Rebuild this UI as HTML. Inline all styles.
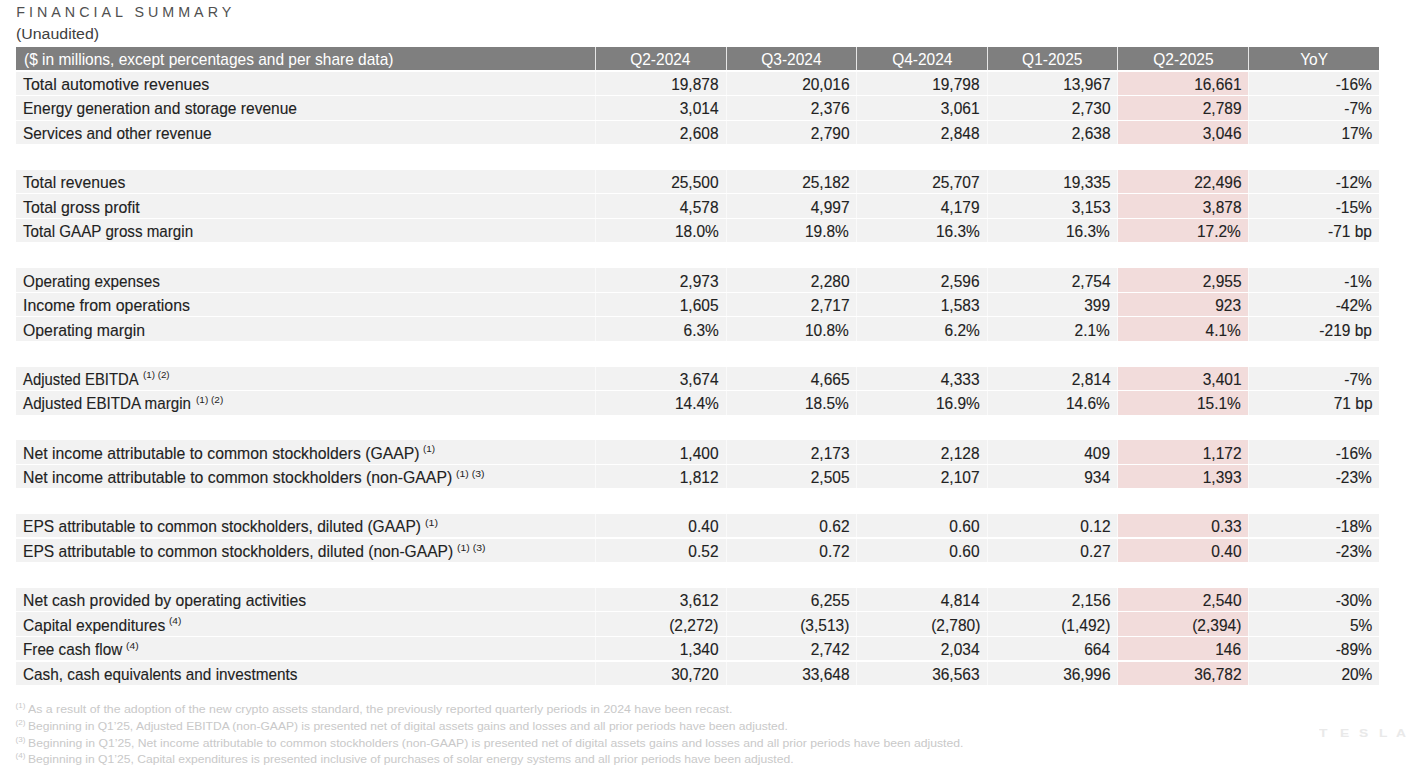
<!DOCTYPE html>
<html><head><meta charset="utf-8"><style>
html,body{margin:0;padding:0;background:#fff;}
body{width:1408px;height:776px;position:relative;overflow:hidden;font-family:"Liberation Sans",sans-serif;}
.t{position:absolute;white-space:pre;line-height:1;}
.bg{position:absolute;background:#f2f2f2;}
.pk{position:absolute;background:#f2dcdb;}
.hd{position:absolute;background:#7f7f7f;}
.sep{position:absolute;background:#fafafa;width:1px;}
.hsep{position:absolute;background:#e6e6e6;width:1px;}
.txt{color:#222;font-size:16.2px;-webkit-text-stroke:0.12px #222;}
.htx{color:#fff;font-size:16.2px;}
.sup{color:#1e1e1e;font-size:9.6px;transform-origin:0 0;}
.fn{color:#c9c9c9;font-size:11.6px;transform-origin:0 0;}
.fs{color:#c9c9c9;font-size:8.1px;transform-origin:0 0;}
</style></head><body>

<div class="t" style="left:16.3px;top:5.0px;font-size:14.3px;letter-spacing:4.0px;color:#505050;">FINANCIAL SUMMARY</div>
<div class="t" style="left:16px;top:26px;font-size:15.3px;color:#404040;transform-origin:0 0;transform:scaleX(1.039240506329114)">(Unaudited)</div>
<div class="hd" style="left:16.00px;top:47.00px;width:1363.00px;height:23.43px"></div>
<div class="t htx" style="left:23.90px;top:50.70px;transform-origin:0 0;transform:scaleX(0.957)">($ in millions, except percentages and per share data)</div>
<div class="t htx" style="left:595.30px;width:130.70px;text-align:center;top:50.70px;transform-origin:50% 0;transform:scaleX(0.957)">Q2-2024</div>
<div class="t htx" style="left:726.00px;width:130.75px;text-align:center;top:50.70px;transform-origin:50% 0;transform:scaleX(0.957)">Q3-2024</div>
<div class="t htx" style="left:856.75px;width:130.65px;text-align:center;top:50.70px;transform-origin:50% 0;transform:scaleX(0.957)">Q4-2024</div>
<div class="t htx" style="left:987.40px;width:130.50px;text-align:center;top:50.70px;transform-origin:50% 0;transform:scaleX(0.957)">Q1-2025</div>
<div class="t htx" style="left:1117.90px;width:130.80px;text-align:center;top:50.70px;transform-origin:50% 0;transform:scaleX(0.957)">Q2-2025</div>
<div class="t htx" style="left:1248.70px;width:130.30px;text-align:center;top:50.70px;transform-origin:50% 0;transform:scaleX(0.957)">YoY</div>
<div class="hsep" style="left:594.80px;top:47.00px;height:23.43px"></div>
<div class="hsep" style="left:725.50px;top:47.00px;height:23.43px"></div>
<div class="hsep" style="left:856.25px;top:47.00px;height:23.43px"></div>
<div class="hsep" style="left:986.90px;top:47.00px;height:23.43px"></div>
<div class="hsep" style="left:1117.40px;top:47.00px;height:23.43px"></div>
<div class="hsep" style="left:1248.20px;top:47.00px;height:23.43px"></div>
<div class="bg" style="left:16.00px;top:71.58px;width:1363.00px;height:23.43px"></div>
<div class="pk" style="left:1117.90px;top:71.58px;width:130.80px;height:23.43px"></div>
<div class="sep" style="left:594.80px;top:71.58px;height:23.43px"></div>
<div class="sep" style="left:725.50px;top:71.58px;height:23.43px"></div>
<div class="sep" style="left:856.25px;top:71.58px;height:23.43px"></div>
<div class="sep" style="left:986.90px;top:71.58px;height:23.43px"></div>
<div class="sep" style="left:1117.40px;top:71.58px;height:23.43px"></div>
<div class="sep" style="left:1248.20px;top:71.58px;height:23.43px"></div>
<div class="t txt" style="left:23.00px;top:75.88px;transform-origin:0 0;transform:scaleX(0.9862)">Total automotive revenues</div>
<div class="t txt" style="right:689.60px;top:75.88px;transform-origin:100% 0;transform:scaleX(0.957)">19,878</div>
<div class="t txt" style="right:558.85px;top:75.88px;transform-origin:100% 0;transform:scaleX(0.957)">20,016</div>
<div class="t txt" style="right:428.20px;top:75.88px;transform-origin:100% 0;transform:scaleX(0.957)">19,798</div>
<div class="t txt" style="right:297.70px;top:75.88px;transform-origin:100% 0;transform:scaleX(0.957)">13,967</div>
<div class="t txt" style="right:166.90px;top:75.88px;transform-origin:100% 0;transform:scaleX(0.957)">16,661</div>
<div class="t txt" style="right:35.80px;top:75.88px;transform-origin:100% 0;transform:scaleX(0.957)">-16%</div>
<div class="bg" style="left:16.00px;top:96.16px;width:1363.00px;height:23.43px"></div>
<div class="pk" style="left:1117.90px;top:96.16px;width:130.80px;height:23.43px"></div>
<div class="sep" style="left:594.80px;top:96.16px;height:23.43px"></div>
<div class="sep" style="left:725.50px;top:96.16px;height:23.43px"></div>
<div class="sep" style="left:856.25px;top:96.16px;height:23.43px"></div>
<div class="sep" style="left:986.90px;top:96.16px;height:23.43px"></div>
<div class="sep" style="left:1117.40px;top:96.16px;height:23.43px"></div>
<div class="sep" style="left:1248.20px;top:96.16px;height:23.43px"></div>
<div class="t txt" style="left:23.00px;top:100.46px;transform-origin:0 0;transform:scaleX(0.9604)">Energy generation and storage revenue</div>
<div class="t txt" style="right:689.60px;top:100.46px;transform-origin:100% 0;transform:scaleX(0.957)">3,014</div>
<div class="t txt" style="right:558.85px;top:100.46px;transform-origin:100% 0;transform:scaleX(0.957)">2,376</div>
<div class="t txt" style="right:428.20px;top:100.46px;transform-origin:100% 0;transform:scaleX(0.957)">3,061</div>
<div class="t txt" style="right:297.70px;top:100.46px;transform-origin:100% 0;transform:scaleX(0.957)">2,730</div>
<div class="t txt" style="right:166.90px;top:100.46px;transform-origin:100% 0;transform:scaleX(0.957)">2,789</div>
<div class="t txt" style="right:35.80px;top:100.46px;transform-origin:100% 0;transform:scaleX(0.957)">-7%</div>
<div class="bg" style="left:16.00px;top:120.74px;width:1363.00px;height:23.43px"></div>
<div class="pk" style="left:1117.90px;top:120.74px;width:130.80px;height:23.43px"></div>
<div class="sep" style="left:594.80px;top:120.74px;height:23.43px"></div>
<div class="sep" style="left:725.50px;top:120.74px;height:23.43px"></div>
<div class="sep" style="left:856.25px;top:120.74px;height:23.43px"></div>
<div class="sep" style="left:986.90px;top:120.74px;height:23.43px"></div>
<div class="sep" style="left:1117.40px;top:120.74px;height:23.43px"></div>
<div class="sep" style="left:1248.20px;top:120.74px;height:23.43px"></div>
<div class="t txt" style="left:23.00px;top:125.04px;transform-origin:0 0;transform:scaleX(0.9525)">Services and other revenue</div>
<div class="t txt" style="right:689.60px;top:125.04px;transform-origin:100% 0;transform:scaleX(0.957)">2,608</div>
<div class="t txt" style="right:558.85px;top:125.04px;transform-origin:100% 0;transform:scaleX(0.957)">2,790</div>
<div class="t txt" style="right:428.20px;top:125.04px;transform-origin:100% 0;transform:scaleX(0.957)">2,848</div>
<div class="t txt" style="right:297.70px;top:125.04px;transform-origin:100% 0;transform:scaleX(0.957)">2,638</div>
<div class="t txt" style="right:166.90px;top:125.04px;transform-origin:100% 0;transform:scaleX(0.957)">3,046</div>
<div class="t txt" style="right:35.80px;top:125.04px;transform-origin:100% 0;transform:scaleX(0.957)">17%</div>
<div class="bg" style="left:16.00px;top:169.90px;width:1363.00px;height:23.43px"></div>
<div class="pk" style="left:1117.90px;top:169.90px;width:130.80px;height:23.43px"></div>
<div class="sep" style="left:594.80px;top:169.90px;height:23.43px"></div>
<div class="sep" style="left:725.50px;top:169.90px;height:23.43px"></div>
<div class="sep" style="left:856.25px;top:169.90px;height:23.43px"></div>
<div class="sep" style="left:986.90px;top:169.90px;height:23.43px"></div>
<div class="sep" style="left:1117.40px;top:169.90px;height:23.43px"></div>
<div class="sep" style="left:1248.20px;top:169.90px;height:23.43px"></div>
<div class="t txt" style="left:23.00px;top:174.20px;transform-origin:0 0;transform:scaleX(0.9714)">Total revenues</div>
<div class="t txt" style="right:689.60px;top:174.20px;transform-origin:100% 0;transform:scaleX(0.957)">25,500</div>
<div class="t txt" style="right:558.85px;top:174.20px;transform-origin:100% 0;transform:scaleX(0.957)">25,182</div>
<div class="t txt" style="right:428.20px;top:174.20px;transform-origin:100% 0;transform:scaleX(0.957)">25,707</div>
<div class="t txt" style="right:297.70px;top:174.20px;transform-origin:100% 0;transform:scaleX(0.957)">19,335</div>
<div class="t txt" style="right:166.90px;top:174.20px;transform-origin:100% 0;transform:scaleX(0.957)">22,496</div>
<div class="t txt" style="right:35.80px;top:174.20px;transform-origin:100% 0;transform:scaleX(0.957)">-12%</div>
<div class="bg" style="left:16.00px;top:194.48px;width:1363.00px;height:23.43px"></div>
<div class="pk" style="left:1117.90px;top:194.48px;width:130.80px;height:23.43px"></div>
<div class="sep" style="left:594.80px;top:194.48px;height:23.43px"></div>
<div class="sep" style="left:725.50px;top:194.48px;height:23.43px"></div>
<div class="sep" style="left:856.25px;top:194.48px;height:23.43px"></div>
<div class="sep" style="left:986.90px;top:194.48px;height:23.43px"></div>
<div class="sep" style="left:1117.40px;top:194.48px;height:23.43px"></div>
<div class="sep" style="left:1248.20px;top:194.48px;height:23.43px"></div>
<div class="t txt" style="left:23.00px;top:198.78px;transform-origin:0 0;transform:scaleX(0.9824)">Total gross profit</div>
<div class="t txt" style="right:689.60px;top:198.78px;transform-origin:100% 0;transform:scaleX(0.957)">4,578</div>
<div class="t txt" style="right:558.85px;top:198.78px;transform-origin:100% 0;transform:scaleX(0.957)">4,997</div>
<div class="t txt" style="right:428.20px;top:198.78px;transform-origin:100% 0;transform:scaleX(0.957)">4,179</div>
<div class="t txt" style="right:297.70px;top:198.78px;transform-origin:100% 0;transform:scaleX(0.957)">3,153</div>
<div class="t txt" style="right:166.90px;top:198.78px;transform-origin:100% 0;transform:scaleX(0.957)">3,878</div>
<div class="t txt" style="right:35.80px;top:198.78px;transform-origin:100% 0;transform:scaleX(0.957)">-15%</div>
<div class="bg" style="left:16.00px;top:219.06px;width:1363.00px;height:23.43px"></div>
<div class="pk" style="left:1117.90px;top:219.06px;width:130.80px;height:23.43px"></div>
<div class="sep" style="left:594.80px;top:219.06px;height:23.43px"></div>
<div class="sep" style="left:725.50px;top:219.06px;height:23.43px"></div>
<div class="sep" style="left:856.25px;top:219.06px;height:23.43px"></div>
<div class="sep" style="left:986.90px;top:219.06px;height:23.43px"></div>
<div class="sep" style="left:1117.40px;top:219.06px;height:23.43px"></div>
<div class="sep" style="left:1248.20px;top:219.06px;height:23.43px"></div>
<div class="t txt" style="left:23.00px;top:223.36px;transform-origin:0 0;transform:scaleX(0.9376)">Total GAAP gross margin</div>
<div class="t txt" style="right:689.60px;top:223.36px;transform-origin:100% 0;transform:scaleX(0.957)">18.0%</div>
<div class="t txt" style="right:558.85px;top:223.36px;transform-origin:100% 0;transform:scaleX(0.957)">19.8%</div>
<div class="t txt" style="right:428.20px;top:223.36px;transform-origin:100% 0;transform:scaleX(0.957)">16.3%</div>
<div class="t txt" style="right:297.70px;top:223.36px;transform-origin:100% 0;transform:scaleX(0.957)">16.3%</div>
<div class="t txt" style="right:166.90px;top:223.36px;transform-origin:100% 0;transform:scaleX(0.957)">17.2%</div>
<div class="t txt" style="right:35.80px;top:223.36px;transform-origin:100% 0;transform:scaleX(0.957)">-71 bp</div>
<div class="bg" style="left:16.00px;top:268.22px;width:1363.00px;height:23.43px"></div>
<div class="pk" style="left:1117.90px;top:268.22px;width:130.80px;height:23.43px"></div>
<div class="sep" style="left:594.80px;top:268.22px;height:23.43px"></div>
<div class="sep" style="left:725.50px;top:268.22px;height:23.43px"></div>
<div class="sep" style="left:856.25px;top:268.22px;height:23.43px"></div>
<div class="sep" style="left:986.90px;top:268.22px;height:23.43px"></div>
<div class="sep" style="left:1117.40px;top:268.22px;height:23.43px"></div>
<div class="sep" style="left:1248.20px;top:268.22px;height:23.43px"></div>
<div class="t txt" style="left:23.00px;top:272.52px;transform-origin:0 0;transform:scaleX(0.9448)">Operating expenses</div>
<div class="t txt" style="right:689.60px;top:272.52px;transform-origin:100% 0;transform:scaleX(0.957)">2,973</div>
<div class="t txt" style="right:558.85px;top:272.52px;transform-origin:100% 0;transform:scaleX(0.957)">2,280</div>
<div class="t txt" style="right:428.20px;top:272.52px;transform-origin:100% 0;transform:scaleX(0.957)">2,596</div>
<div class="t txt" style="right:297.70px;top:272.52px;transform-origin:100% 0;transform:scaleX(0.957)">2,754</div>
<div class="t txt" style="right:166.90px;top:272.52px;transform-origin:100% 0;transform:scaleX(0.957)">2,955</div>
<div class="t txt" style="right:35.80px;top:272.52px;transform-origin:100% 0;transform:scaleX(0.957)">-1%</div>
<div class="bg" style="left:16.00px;top:292.80px;width:1363.00px;height:23.43px"></div>
<div class="pk" style="left:1117.90px;top:292.80px;width:130.80px;height:23.43px"></div>
<div class="sep" style="left:594.80px;top:292.80px;height:23.43px"></div>
<div class="sep" style="left:725.50px;top:292.80px;height:23.43px"></div>
<div class="sep" style="left:856.25px;top:292.80px;height:23.43px"></div>
<div class="sep" style="left:986.90px;top:292.80px;height:23.43px"></div>
<div class="sep" style="left:1117.40px;top:292.80px;height:23.43px"></div>
<div class="sep" style="left:1248.20px;top:292.80px;height:23.43px"></div>
<div class="t txt" style="left:23.00px;top:297.10px;transform-origin:0 0;transform:scaleX(0.9818)">Income from operations</div>
<div class="t txt" style="right:689.60px;top:297.10px;transform-origin:100% 0;transform:scaleX(0.957)">1,605</div>
<div class="t txt" style="right:558.85px;top:297.10px;transform-origin:100% 0;transform:scaleX(0.957)">2,717</div>
<div class="t txt" style="right:428.20px;top:297.10px;transform-origin:100% 0;transform:scaleX(0.957)">1,583</div>
<div class="t txt" style="right:297.70px;top:297.10px;transform-origin:100% 0;transform:scaleX(0.957)">399</div>
<div class="t txt" style="right:166.90px;top:297.10px;transform-origin:100% 0;transform:scaleX(0.957)">923</div>
<div class="t txt" style="right:35.80px;top:297.10px;transform-origin:100% 0;transform:scaleX(0.957)">-42%</div>
<div class="bg" style="left:16.00px;top:317.38px;width:1363.00px;height:23.43px"></div>
<div class="pk" style="left:1117.90px;top:317.38px;width:130.80px;height:23.43px"></div>
<div class="sep" style="left:594.80px;top:317.38px;height:23.43px"></div>
<div class="sep" style="left:725.50px;top:317.38px;height:23.43px"></div>
<div class="sep" style="left:856.25px;top:317.38px;height:23.43px"></div>
<div class="sep" style="left:986.90px;top:317.38px;height:23.43px"></div>
<div class="sep" style="left:1117.40px;top:317.38px;height:23.43px"></div>
<div class="sep" style="left:1248.20px;top:317.38px;height:23.43px"></div>
<div class="t txt" style="left:23.00px;top:321.68px;transform-origin:0 0;transform:scaleX(0.9766)">Operating margin</div>
<div class="t txt" style="right:689.60px;top:321.68px;transform-origin:100% 0;transform:scaleX(0.957)">6.3%</div>
<div class="t txt" style="right:558.85px;top:321.68px;transform-origin:100% 0;transform:scaleX(0.957)">10.8%</div>
<div class="t txt" style="right:428.20px;top:321.68px;transform-origin:100% 0;transform:scaleX(0.957)">6.2%</div>
<div class="t txt" style="right:297.70px;top:321.68px;transform-origin:100% 0;transform:scaleX(0.957)">2.1%</div>
<div class="t txt" style="right:166.90px;top:321.68px;transform-origin:100% 0;transform:scaleX(0.957)">4.1%</div>
<div class="t txt" style="right:35.80px;top:321.68px;transform-origin:100% 0;transform:scaleX(0.957)">-219 bp</div>
<div class="bg" style="left:16.00px;top:366.54px;width:1363.00px;height:23.43px"></div>
<div class="pk" style="left:1117.90px;top:366.54px;width:130.80px;height:23.43px"></div>
<div class="sep" style="left:594.80px;top:366.54px;height:23.43px"></div>
<div class="sep" style="left:725.50px;top:366.54px;height:23.43px"></div>
<div class="sep" style="left:856.25px;top:366.54px;height:23.43px"></div>
<div class="sep" style="left:986.90px;top:366.54px;height:23.43px"></div>
<div class="sep" style="left:1117.40px;top:366.54px;height:23.43px"></div>
<div class="sep" style="left:1248.20px;top:366.54px;height:23.43px"></div>
<div class="t txt" style="left:23.00px;top:370.84px;transform-origin:0 0;transform:scaleX(0.9183)">Adjusted EBITDA</div>
<div class="t sup" style="left:143.30px;top:370.44px;transform:scaleX(1.0192)">(1) (2)</div>
<div class="t txt" style="right:689.60px;top:370.84px;transform-origin:100% 0;transform:scaleX(0.957)">3,674</div>
<div class="t txt" style="right:558.85px;top:370.84px;transform-origin:100% 0;transform:scaleX(0.957)">4,665</div>
<div class="t txt" style="right:428.20px;top:370.84px;transform-origin:100% 0;transform:scaleX(0.957)">4,333</div>
<div class="t txt" style="right:297.70px;top:370.84px;transform-origin:100% 0;transform:scaleX(0.957)">2,814</div>
<div class="t txt" style="right:166.90px;top:370.84px;transform-origin:100% 0;transform:scaleX(0.957)">3,401</div>
<div class="t txt" style="right:35.80px;top:370.84px;transform-origin:100% 0;transform:scaleX(0.957)">-7%</div>
<div class="bg" style="left:16.00px;top:391.12px;width:1363.00px;height:23.43px"></div>
<div class="pk" style="left:1117.90px;top:391.12px;width:130.80px;height:23.43px"></div>
<div class="sep" style="left:594.80px;top:391.12px;height:23.43px"></div>
<div class="sep" style="left:725.50px;top:391.12px;height:23.43px"></div>
<div class="sep" style="left:856.25px;top:391.12px;height:23.43px"></div>
<div class="sep" style="left:986.90px;top:391.12px;height:23.43px"></div>
<div class="sep" style="left:1117.40px;top:391.12px;height:23.43px"></div>
<div class="sep" style="left:1248.20px;top:391.12px;height:23.43px"></div>
<div class="t txt" style="left:23.00px;top:395.42px;transform-origin:0 0;transform:scaleX(0.9382)">Adjusted EBITDA margin</div>
<div class="t sup" style="left:195.70px;top:395.02px;transform:scaleX(1.0423)">(1) (2)</div>
<div class="t txt" style="right:689.60px;top:395.42px;transform-origin:100% 0;transform:scaleX(0.957)">14.4%</div>
<div class="t txt" style="right:558.85px;top:395.42px;transform-origin:100% 0;transform:scaleX(0.957)">18.5%</div>
<div class="t txt" style="right:428.20px;top:395.42px;transform-origin:100% 0;transform:scaleX(0.957)">16.9%</div>
<div class="t txt" style="right:297.70px;top:395.42px;transform-origin:100% 0;transform:scaleX(0.957)">14.6%</div>
<div class="t txt" style="right:166.90px;top:395.42px;transform-origin:100% 0;transform:scaleX(0.957)">15.1%</div>
<div class="t txt" style="right:35.80px;top:395.42px;transform-origin:100% 0;transform:scaleX(0.957)">71 bp</div>
<div class="bg" style="left:16.00px;top:440.28px;width:1363.00px;height:23.43px"></div>
<div class="pk" style="left:1117.90px;top:440.28px;width:130.80px;height:23.43px"></div>
<div class="sep" style="left:594.80px;top:440.28px;height:23.43px"></div>
<div class="sep" style="left:725.50px;top:440.28px;height:23.43px"></div>
<div class="sep" style="left:856.25px;top:440.28px;height:23.43px"></div>
<div class="sep" style="left:986.90px;top:440.28px;height:23.43px"></div>
<div class="sep" style="left:1117.40px;top:440.28px;height:23.43px"></div>
<div class="sep" style="left:1248.20px;top:440.28px;height:23.43px"></div>
<div class="t txt" style="left:23.00px;top:444.58px;transform-origin:0 0;transform:scaleX(0.9751)">Net income attributable to common stockholders (GAAP)</div>
<div class="t sup" style="left:423.07px;top:444.18px;transform:scaleX(1.0364)">(1)</div>
<div class="t txt" style="right:689.60px;top:444.58px;transform-origin:100% 0;transform:scaleX(0.957)">1,400</div>
<div class="t txt" style="right:558.85px;top:444.58px;transform-origin:100% 0;transform:scaleX(0.957)">2,173</div>
<div class="t txt" style="right:428.20px;top:444.58px;transform-origin:100% 0;transform:scaleX(0.957)">2,128</div>
<div class="t txt" style="right:297.70px;top:444.58px;transform-origin:100% 0;transform:scaleX(0.957)">409</div>
<div class="t txt" style="right:166.90px;top:444.58px;transform-origin:100% 0;transform:scaleX(0.957)">1,172</div>
<div class="t txt" style="right:35.80px;top:444.58px;transform-origin:100% 0;transform:scaleX(0.957)">-16%</div>
<div class="bg" style="left:16.00px;top:464.86px;width:1363.00px;height:23.43px"></div>
<div class="pk" style="left:1117.90px;top:464.86px;width:130.80px;height:23.43px"></div>
<div class="sep" style="left:594.80px;top:464.86px;height:23.43px"></div>
<div class="sep" style="left:725.50px;top:464.86px;height:23.43px"></div>
<div class="sep" style="left:856.25px;top:464.86px;height:23.43px"></div>
<div class="sep" style="left:986.90px;top:464.86px;height:23.43px"></div>
<div class="sep" style="left:1117.40px;top:464.86px;height:23.43px"></div>
<div class="sep" style="left:1248.20px;top:464.86px;height:23.43px"></div>
<div class="t txt" style="left:23.00px;top:469.16px;transform-origin:0 0;transform:scaleX(0.9776)">Net income attributable to common stockholders (non-GAAP)</div>
<div class="t sup" style="left:455.86px;top:468.76px;transform:scaleX(1.0920)">(1) (3)</div>
<div class="t txt" style="right:689.60px;top:469.16px;transform-origin:100% 0;transform:scaleX(0.957)">1,812</div>
<div class="t txt" style="right:558.85px;top:469.16px;transform-origin:100% 0;transform:scaleX(0.957)">2,505</div>
<div class="t txt" style="right:428.20px;top:469.16px;transform-origin:100% 0;transform:scaleX(0.957)">2,107</div>
<div class="t txt" style="right:297.70px;top:469.16px;transform-origin:100% 0;transform:scaleX(0.957)">934</div>
<div class="t txt" style="right:166.90px;top:469.16px;transform-origin:100% 0;transform:scaleX(0.957)">1,393</div>
<div class="t txt" style="right:35.80px;top:469.16px;transform-origin:100% 0;transform:scaleX(0.957)">-23%</div>
<div class="bg" style="left:16.00px;top:514.02px;width:1363.00px;height:23.43px"></div>
<div class="pk" style="left:1117.90px;top:514.02px;width:130.80px;height:23.43px"></div>
<div class="sep" style="left:594.80px;top:514.02px;height:23.43px"></div>
<div class="sep" style="left:725.50px;top:514.02px;height:23.43px"></div>
<div class="sep" style="left:856.25px;top:514.02px;height:23.43px"></div>
<div class="sep" style="left:986.90px;top:514.02px;height:23.43px"></div>
<div class="sep" style="left:1117.40px;top:514.02px;height:23.43px"></div>
<div class="sep" style="left:1248.20px;top:514.02px;height:23.43px"></div>
<div class="t txt" style="left:23.00px;top:518.32px;transform-origin:0 0;transform:scaleX(0.9617)">EPS attributable to common stockholders, diluted (GAAP)</div>
<div class="t sup" style="left:425.49px;top:517.92px;transform:scaleX(1.1091)">(1)</div>
<div class="t txt" style="right:689.60px;top:518.32px;transform-origin:100% 0;transform:scaleX(0.957)">0.40</div>
<div class="t txt" style="right:558.85px;top:518.32px;transform-origin:100% 0;transform:scaleX(0.957)">0.62</div>
<div class="t txt" style="right:428.20px;top:518.32px;transform-origin:100% 0;transform:scaleX(0.957)">0.60</div>
<div class="t txt" style="right:297.70px;top:518.32px;transform-origin:100% 0;transform:scaleX(0.957)">0.12</div>
<div class="t txt" style="right:166.90px;top:518.32px;transform-origin:100% 0;transform:scaleX(0.957)">0.33</div>
<div class="t txt" style="right:35.80px;top:518.32px;transform-origin:100% 0;transform:scaleX(0.957)">-18%</div>
<div class="bg" style="left:16.00px;top:538.60px;width:1363.00px;height:23.43px"></div>
<div class="pk" style="left:1117.90px;top:538.60px;width:130.80px;height:23.43px"></div>
<div class="sep" style="left:594.80px;top:538.60px;height:23.43px"></div>
<div class="sep" style="left:725.50px;top:538.60px;height:23.43px"></div>
<div class="sep" style="left:856.25px;top:538.60px;height:23.43px"></div>
<div class="sep" style="left:986.90px;top:538.60px;height:23.43px"></div>
<div class="sep" style="left:1117.40px;top:538.60px;height:23.43px"></div>
<div class="sep" style="left:1248.20px;top:538.60px;height:23.43px"></div>
<div class="t txt" style="left:23.00px;top:542.90px;transform-origin:0 0;transform:scaleX(0.9639)">EPS attributable to common stockholders, diluted (non-GAAP)</div>
<div class="t sup" style="left:457.03px;top:542.50px;transform:scaleX(1.0920)">(1) (3)</div>
<div class="t txt" style="right:689.60px;top:542.90px;transform-origin:100% 0;transform:scaleX(0.957)">0.52</div>
<div class="t txt" style="right:558.85px;top:542.90px;transform-origin:100% 0;transform:scaleX(0.957)">0.72</div>
<div class="t txt" style="right:428.20px;top:542.90px;transform-origin:100% 0;transform:scaleX(0.957)">0.60</div>
<div class="t txt" style="right:297.70px;top:542.90px;transform-origin:100% 0;transform:scaleX(0.957)">0.27</div>
<div class="t txt" style="right:166.90px;top:542.90px;transform-origin:100% 0;transform:scaleX(0.957)">0.40</div>
<div class="t txt" style="right:35.80px;top:542.90px;transform-origin:100% 0;transform:scaleX(0.957)">-23%</div>
<div class="bg" style="left:16.00px;top:587.76px;width:1363.00px;height:23.43px"></div>
<div class="pk" style="left:1117.90px;top:587.76px;width:130.80px;height:23.43px"></div>
<div class="sep" style="left:594.80px;top:587.76px;height:23.43px"></div>
<div class="sep" style="left:725.50px;top:587.76px;height:23.43px"></div>
<div class="sep" style="left:856.25px;top:587.76px;height:23.43px"></div>
<div class="sep" style="left:986.90px;top:587.76px;height:23.43px"></div>
<div class="sep" style="left:1117.40px;top:587.76px;height:23.43px"></div>
<div class="sep" style="left:1248.20px;top:587.76px;height:23.43px"></div>
<div class="t txt" style="left:23.00px;top:592.06px;transform-origin:0 0;transform:scaleX(0.9741)">Net cash provided by operating activities</div>
<div class="t txt" style="right:689.60px;top:592.06px;transform-origin:100% 0;transform:scaleX(0.957)">3,612</div>
<div class="t txt" style="right:558.85px;top:592.06px;transform-origin:100% 0;transform:scaleX(0.957)">6,255</div>
<div class="t txt" style="right:428.20px;top:592.06px;transform-origin:100% 0;transform:scaleX(0.957)">4,814</div>
<div class="t txt" style="right:297.70px;top:592.06px;transform-origin:100% 0;transform:scaleX(0.957)">2,156</div>
<div class="t txt" style="right:166.90px;top:592.06px;transform-origin:100% 0;transform:scaleX(0.957)">2,540</div>
<div class="t txt" style="right:35.80px;top:592.06px;transform-origin:100% 0;transform:scaleX(0.957)">-30%</div>
<div class="bg" style="left:16.00px;top:612.34px;width:1363.00px;height:23.43px"></div>
<div class="pk" style="left:1117.90px;top:612.34px;width:130.80px;height:23.43px"></div>
<div class="sep" style="left:594.80px;top:612.34px;height:23.43px"></div>
<div class="sep" style="left:725.50px;top:612.34px;height:23.43px"></div>
<div class="sep" style="left:856.25px;top:612.34px;height:23.43px"></div>
<div class="sep" style="left:986.90px;top:612.34px;height:23.43px"></div>
<div class="sep" style="left:1117.40px;top:612.34px;height:23.43px"></div>
<div class="sep" style="left:1248.20px;top:612.34px;height:23.43px"></div>
<div class="t txt" style="left:23.00px;top:616.64px;transform-origin:0 0;transform:scaleX(0.9646)">Capital expenditures</div>
<div class="t sup" style="left:169.26px;top:616.24px;transform:scaleX(1.0545)">(4)</div>
<div class="t txt" style="right:689.60px;top:616.64px;transform-origin:100% 0;transform:scaleX(0.957)">(2,272)</div>
<div class="t txt" style="right:558.85px;top:616.64px;transform-origin:100% 0;transform:scaleX(0.957)">(3,513)</div>
<div class="t txt" style="right:428.20px;top:616.64px;transform-origin:100% 0;transform:scaleX(0.957)">(2,780)</div>
<div class="t txt" style="right:297.70px;top:616.64px;transform-origin:100% 0;transform:scaleX(0.957)">(1,492)</div>
<div class="t txt" style="right:166.90px;top:616.64px;transform-origin:100% 0;transform:scaleX(0.957)">(2,394)</div>
<div class="t txt" style="right:35.80px;top:616.64px;transform-origin:100% 0;transform:scaleX(0.957)">5%</div>
<div class="bg" style="left:16.00px;top:636.92px;width:1363.00px;height:23.43px"></div>
<div class="pk" style="left:1117.90px;top:636.92px;width:130.80px;height:23.43px"></div>
<div class="sep" style="left:594.80px;top:636.92px;height:23.43px"></div>
<div class="sep" style="left:725.50px;top:636.92px;height:23.43px"></div>
<div class="sep" style="left:856.25px;top:636.92px;height:23.43px"></div>
<div class="sep" style="left:986.90px;top:636.92px;height:23.43px"></div>
<div class="sep" style="left:1117.40px;top:636.92px;height:23.43px"></div>
<div class="sep" style="left:1248.20px;top:636.92px;height:23.43px"></div>
<div class="t txt" style="left:23.00px;top:641.22px;transform-origin:0 0;transform:scaleX(0.9419)">Free cash flow</div>
<div class="t sup" style="left:126.04px;top:640.82px;transform:scaleX(1.0773)">(4)</div>
<div class="t txt" style="right:689.60px;top:641.22px;transform-origin:100% 0;transform:scaleX(0.957)">1,340</div>
<div class="t txt" style="right:558.85px;top:641.22px;transform-origin:100% 0;transform:scaleX(0.957)">2,742</div>
<div class="t txt" style="right:428.20px;top:641.22px;transform-origin:100% 0;transform:scaleX(0.957)">2,034</div>
<div class="t txt" style="right:297.70px;top:641.22px;transform-origin:100% 0;transform:scaleX(0.957)">664</div>
<div class="t txt" style="right:166.90px;top:641.22px;transform-origin:100% 0;transform:scaleX(0.957)">146</div>
<div class="t txt" style="right:35.80px;top:641.22px;transform-origin:100% 0;transform:scaleX(0.957)">-89%</div>
<div class="bg" style="left:16.00px;top:661.50px;width:1363.00px;height:23.43px"></div>
<div class="pk" style="left:1117.90px;top:661.50px;width:130.80px;height:23.43px"></div>
<div class="sep" style="left:594.80px;top:661.50px;height:23.43px"></div>
<div class="sep" style="left:725.50px;top:661.50px;height:23.43px"></div>
<div class="sep" style="left:856.25px;top:661.50px;height:23.43px"></div>
<div class="sep" style="left:986.90px;top:661.50px;height:23.43px"></div>
<div class="sep" style="left:1117.40px;top:661.50px;height:23.43px"></div>
<div class="sep" style="left:1248.20px;top:661.50px;height:23.43px"></div>
<div class="t txt" style="left:23.00px;top:665.80px;transform-origin:0 0;transform:scaleX(0.9472)">Cash, cash equivalents and investments</div>
<div class="t txt" style="right:689.60px;top:665.80px;transform-origin:100% 0;transform:scaleX(0.957)">30,720</div>
<div class="t txt" style="right:558.85px;top:665.80px;transform-origin:100% 0;transform:scaleX(0.957)">33,648</div>
<div class="t txt" style="right:428.20px;top:665.80px;transform-origin:100% 0;transform:scaleX(0.957)">36,563</div>
<div class="t txt" style="right:297.70px;top:665.80px;transform-origin:100% 0;transform:scaleX(0.957)">36,996</div>
<div class="t txt" style="right:166.90px;top:665.80px;transform-origin:100% 0;transform:scaleX(0.957)">36,782</div>
<div class="t txt" style="right:35.80px;top:665.80px;transform-origin:100% 0;transform:scaleX(0.957)">20%</div>
<div class="t fs" style="left:15.6px;top:702.20px">(1)</div>
<div class="t fn" style="left:28.1px;top:703.00px;transform:scaleX(1.0642)">As a result of the adoption of the new crypto assets standard, the previously reported quarterly periods in 2024 have been recast.</div>
<div class="t fs" style="left:15.6px;top:718.95px">(2)</div>
<div class="t fn" style="left:28.1px;top:719.75px;transform:scaleX(1.0396)">Beginning in Q1’25, Adjusted EBITDA (non-GAAP) is presented net of digital assets gains and losses and all prior periods have been adjusted.</div>
<div class="t fs" style="left:15.6px;top:735.70px">(3)</div>
<div class="t fn" style="left:28.1px;top:736.50px;transform:scaleX(1.0510)">Beginning in Q1’25, Net income attributable to common stockholders (non-GAAP) is presented net of digital assets gains and losses and all prior periods have been adjusted.</div>
<div class="t fs" style="left:15.6px;top:752.45px">(4)</div>
<div class="t fn" style="left:28.1px;top:753.25px;transform:scaleX(1.0456)">Beginning in Q1’25, Capital expenditures is presented inclusive of purchases of solar energy systems and all prior periods have been adjusted.</div>
<div class="t" style="left:1318.7px;top:727.6px;font-size:11.5px;color:#e9e9e9;font-weight:bold;transform-origin:0 0;transform:scaleX(1.2)">T</div>
<div class="t" style="left:1339.5px;top:727.6px;font-size:11.5px;color:#e9e9e9;font-weight:bold;transform-origin:0 0;transform:scaleX(1.2)">E</div>
<div class="t" style="left:1359.1px;top:727.6px;font-size:11.5px;color:#e9e9e9;font-weight:bold;transform-origin:0 0;transform:scaleX(1.2)">S</div>
<div class="t" style="left:1378.7px;top:727.6px;font-size:11.5px;color:#e9e9e9;font-weight:bold;transform-origin:0 0;transform:scaleX(1.2)">L</div>
<div class="t" style="left:1396.2px;top:727.6px;font-size:11.5px;color:#e9e9e9;font-weight:bold;transform-origin:0 0;transform:scaleX(1.2)">A</div>
</body></html>
